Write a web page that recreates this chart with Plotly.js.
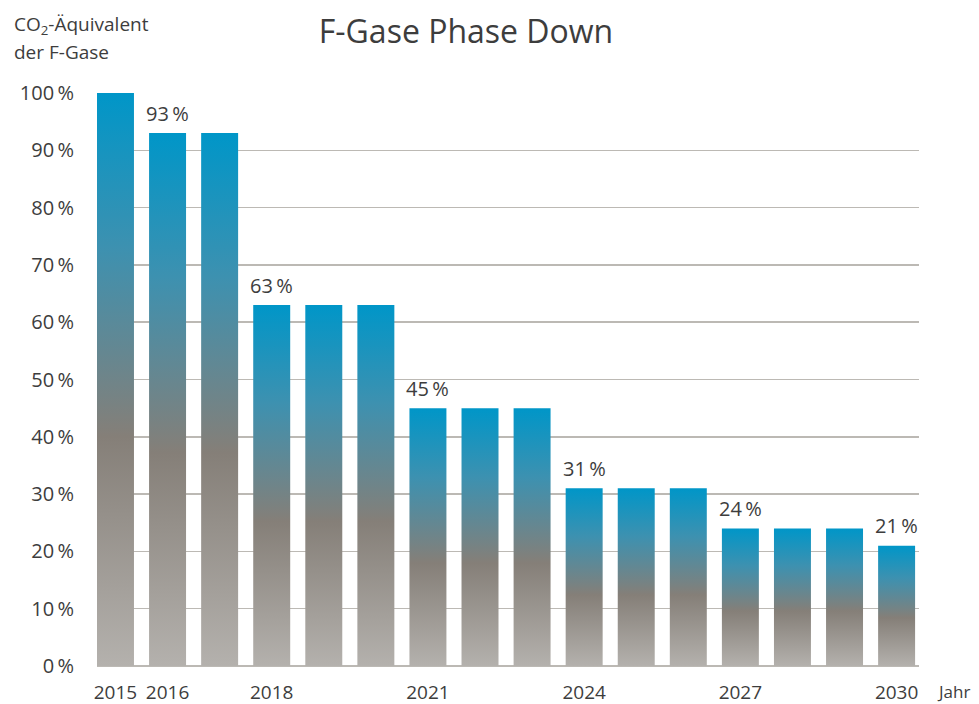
<!DOCTYPE html>
<html>
<head>
<meta charset="utf-8">
<script src="https://cdn.plot.ly/plotly-3.0.1.min.js"></script>
<style>html,body{margin:0;padding:0;background:#fff;}</style>
</head>
<body>
<div id="chart" style="width:979px;height:704px;"></div>
<script>
// Data
const years = [2015, 2016, 2017, 2018, 2019, 2020, 2021, 2022, 2023, 2024, 2025, 2026, 2027, 2028, 2029, 2030];
const shares = [100, 93, 93, 63, 63, 63, 45, 45, 45, 31, 31, 31, 24, 24, 24, 21];
const labelYears = [2016, 2018, 2021, 2024, 2027, 2030];
const labelValues = [93, 63, 45, 31, 24, 21];
const xTickYears = [2015, 2016, 2018, 2021, 2024, 2027, 2030];
const yTicks = [0, 10, 20, 30, 40, 50, 60, 70, 80, 90, 100];

const FONT = '"Open Sans", "DejaVu Sans", sans-serif';
const TXT = '#3d3d3d';
const NS = '\u2009';

const trace = {
  type: 'bar',
  x: years,
  y: shares,
  width: 0.71,
  marker: { color: '#857f78', line: { width: 0 } },
  hoverinfo: 'x+y',
  cliponaxis: false
};

const annotations = labelYears.map((yr, i) => ({
  x: yr, y: labelValues[i], xref: 'x', yref: 'y',
  text: labelValues[i] + NS + '%', showarrow: false,
  yshift: 20, font: { family: FONT, size: 20, color: TXT }
}));
annotations.push(
  { xref: 'paper', yref: 'paper', x: (936 - 97) / 822, y: (666 - 691) / 573, xanchor: 'left', yanchor: 'middle',
    text: 'Jahr', showarrow: false, borderpad: 0, font: { family: FONT, size: 17, color: TXT } },
  { xref: 'paper', yref: 'paper', x: -0.104, y: (666 - 25) / 573, xanchor: 'left', yanchor: 'middle',
    text: 'CO<sub>2</sub>-Äquivalent', showarrow: false, font: { family: FONT, size: 19, color: TXT } },
  { xref: 'paper', yref: 'paper', x: -0.104, y: (666 - 52) / 573, xanchor: 'left', yanchor: 'middle',
    text: 'der F-Gase', showarrow: false, font: { family: FONT, size: 19, color: TXT } }
);

const layout = {
  width: 979, height: 704,
  margin: { l: 97, r: 60, t: 93, b: 38, pad: 0 },
  paper_bgcolor: '#ffffff', plot_bgcolor: '#ffffff',
  font: { family: FONT, color: TXT },
  showlegend: false,
  title: { text: 'F-Gase Phase Down', x: 0.476, xanchor: 'center', xref: 'container',
           y: 0.955, yanchor: 'middle', yref: 'container',
           font: { family: FONT, size: 32, color: '#3d3d3d' } },
  xaxis: {
    range: [2014.645, 2030.43], tickmode: 'array', tickvals: xTickYears,
    ticktext: xTickYears.map(String), showgrid: false, zeroline: false, showline: false,
    ticks: '', ticklabelstandoff: 13, tickfont: { family: FONT, size: 19, color: TXT }, fixedrange: true
  },
  yaxis: {
    range: [0, 100], tickmode: 'array', tickvals: yTicks,
    ticktext: yTicks.map(v => v + NS + '%'), showgrid: true, gridcolor: '#bcb9b4', gridwidth: 1.5,
    zeroline: true, zerolinecolor: '#bcb9b4', zerolinewidth: 1.5, showline: false,
    ticks: '', ticklabelstandoff: 22, tickfont: { family: FONT, size: 20, color: TXT }, fixedrange: true
  },
  annotations: annotations
};

Plotly.newPlot('chart', [trace], layout, { displayModeBar: false, staticPlot: true }).then(gd => {
  const svg = gd.querySelector('.main-svg');
  const svgNS = 'http://www.w3.org/2000/svg';
  let defs = svg.querySelector('defs');
  if (!defs) { defs = document.createElementNS(svgNS, 'defs'); svg.insertBefore(defs, svg.firstChild); }
  const grad = document.createElementNS(svgNS, 'linearGradient');
  grad.setAttribute('id', 'barGrad');
  grad.setAttribute('x1', '0'); grad.setAttribute('y1', '0');
  grad.setAttribute('x2', '0'); grad.setAttribute('y2', '1');
  [[0, '#0096c8'], [0.27, '#3d91b0'], [0.6, '#857f78'], [1, '#b4b1ad']].forEach(([o, c]) => {
    const s = document.createElementNS(svgNS, 'stop');
    s.setAttribute('offset', o); s.setAttribute('stop-color', c);
    grad.appendChild(s);
  });
  defs.appendChild(grad);
  gd.querySelectorAll('.barlayer .point path').forEach(p => { p.style.fill = 'url(#barGrad)'; });
});
</script>
</body>
</html>
